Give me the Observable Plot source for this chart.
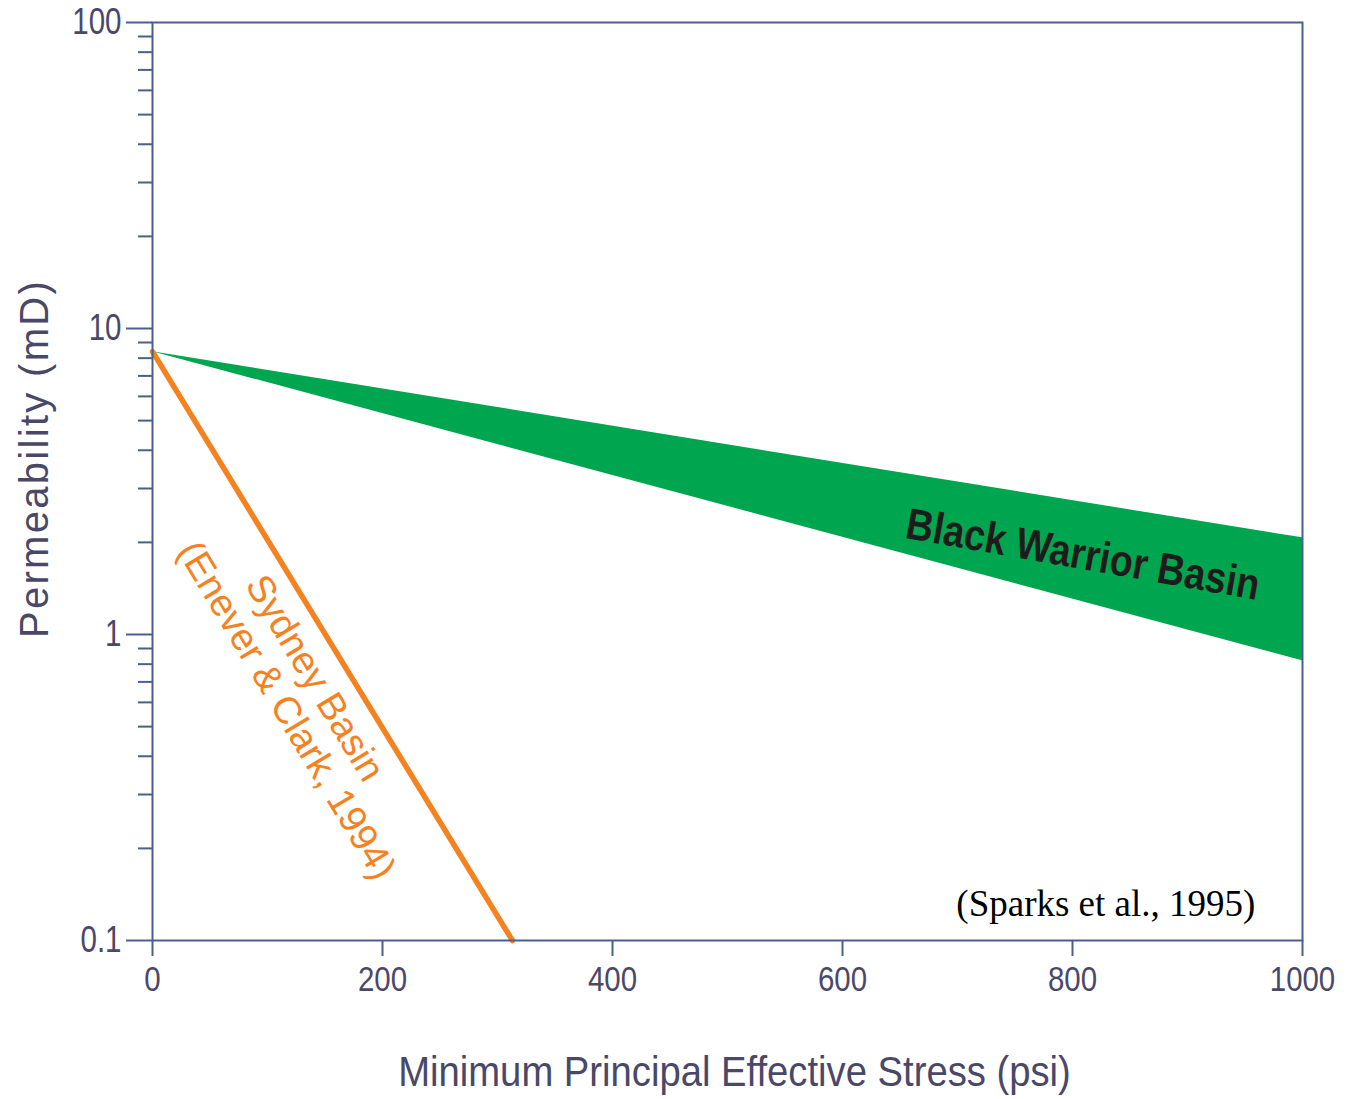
<!DOCTYPE html>
<html>
<head>
<meta charset="utf-8">
<script src="https://cdn.jsdelivr.net/npm/d3@7"></script>
<script src="https://cdn.jsdelivr.net/npm/@observablehq/plot@0.6"></script>
<style>
  html, body { margin: 0; padding: 0; background: #fff; }
  #chart svg { display: block; }
</style>
</head>
<body>
<div id="chart"></div>
<script>
// Data
const stressEnds = [0, 1000];            // psi
const blackWarriorUpper = [8.4, 2.07];   // mD
const blackWarriorLower = [8.4, 0.82];   // mD
const sydneyStress = [0, 313];           // psi
const sydneyPerm = [8.4, 0.1];           // mD
const xTicks = [0, 200, 400, 600, 800, 1000];
const yMajorTicks = [0.1, 1, 10, 100];
const yTickLabels = ["0.1", "1", "10", "100"];
const yMinorTicks = [0.1, 1, 10].flatMap(d => [2,3,4,5,6,7,8,9].map(k => +(k * d).toPrecision(3)));

const band = stressEnds.map((x, i) => ({x, lo: blackWarriorLower[i], hi: blackWarriorUpper[i]}));
const sydney = sydneyStress.map((x, i) => ({x, y: sydneyPerm[i]}));

const axisColor = "#4b5f8e";
const textColor = "#4a4868";
const sans = "'Liberation Sans', Arial, sans-serif";
const green = "#00a64f";
const orange = "#f5821f";

const chart = Plot.plot({
  width: 1346,
  height: 1099,
  marginLeft: 152,
  marginRight: 44,
  marginTop: 22,
  marginBottom: 159,
  style: {background: "#fff", fontFamily: sans},
  x: {domain: [0, 1000]},
  y: {type: "log", domain: [0.1, 100]},
  marks: [
    Plot.areaY(band, {x: "x", y1: "lo", y2: "hi", fill: green}),
    Plot.line(sydney, {x: "x", y: "y", stroke: orange, strokeWidth: 5.5}),
    Plot.frame({stroke: axisColor, strokeWidth: 2}),
    Plot.axisY({ticks: yMinorTicks, tickSize: 14, tickFormat: () => "", stroke: axisColor, strokeWidth: 2, label: null}),
    Plot.axisY({ticks: yMajorTicks, tickSize: 26, tickPadding: 5,
      tickFormat: d => yTickLabels[yMajorTicks.indexOf(d)],
      stroke: axisColor, strokeWidth: 2, fill: textColor, fontSize: 36, label: null}),
    Plot.axisX({ticks: xTicks, tickSize: 16, tickPadding: 10, tickFormat: d => String(d),
      stroke: axisColor, strokeWidth: 2, fill: textColor, fontSize: 35, label: null}),
    Plot.text(["Minimum Principal Effective Stress (psi)"], {frameAnchor: "bottom", dy: 132, dx: 7, text: d => d,
      fill: textColor, fontSize: 42, lineAnchor: "middle", className: "title-x"}),
    Plot.text(["Permeability (mD)"], {frameAnchor: "left", textAnchor: "middle", dx: -117, dy: -23, rotate: -90, text: d => d,
      fill: textColor, fontSize: 40, lineAnchor: "middle", className: "spaced"}),
    Plot.text(["Black Warrior Basin"], {x: 809, y: 1.82, text: d => d, rotate: 10, fill: "#1c1c1c",
      fontSize: 44, fontWeight: "bold", lineAnchor: "middle", className: "narrow"}),
    Plot.text(["Sydney Basin"], {x: 141, y: 0.72, text: d => d, rotate: 59, fill: orange,
      fontSize: 38, lineAnchor: "middle"}),
    Plot.text(["(Enever & Clark, 1994)"], {x: 116.5, y: 0.565, text: d => d, rotate: 59, fill: orange,
      fontSize: 38, lineAnchor: "middle"}),
    Plot.text(["(Sparks et al., 1995)"], {x: 959, y: 0.131, text: d => d, textAnchor: "end", fill: "#000",
      fontSize: 37, fontFamily: "'Liberation Serif', 'Times New Roman', serif", lineAnchor: "middle"})
  ]
});
document.getElementById("chart").append(chart);

// Emulate the condensed face of the original lettering
const condense = (sel, k) => d3.select(chart).selectAll(sel).each(function () {
  const w = this.getComputedTextLength();
  this.setAttribute("textLength", (w * k).toFixed(1));
  this.setAttribute("lengthAdjust", "spacingAndGlyphs");
});
condense('g[aria-label="x-axis tick label"] text', 0.84);
condense('g[aria-label="y-axis tick label"] text', 0.82);
condense('g.narrow text', 0.86);
condense('g.title-x text', 0.91);
d3.select(chart).selectAll("g.spaced text").style("letter-spacing", "2.3px");
</script>
</body>
</html>
